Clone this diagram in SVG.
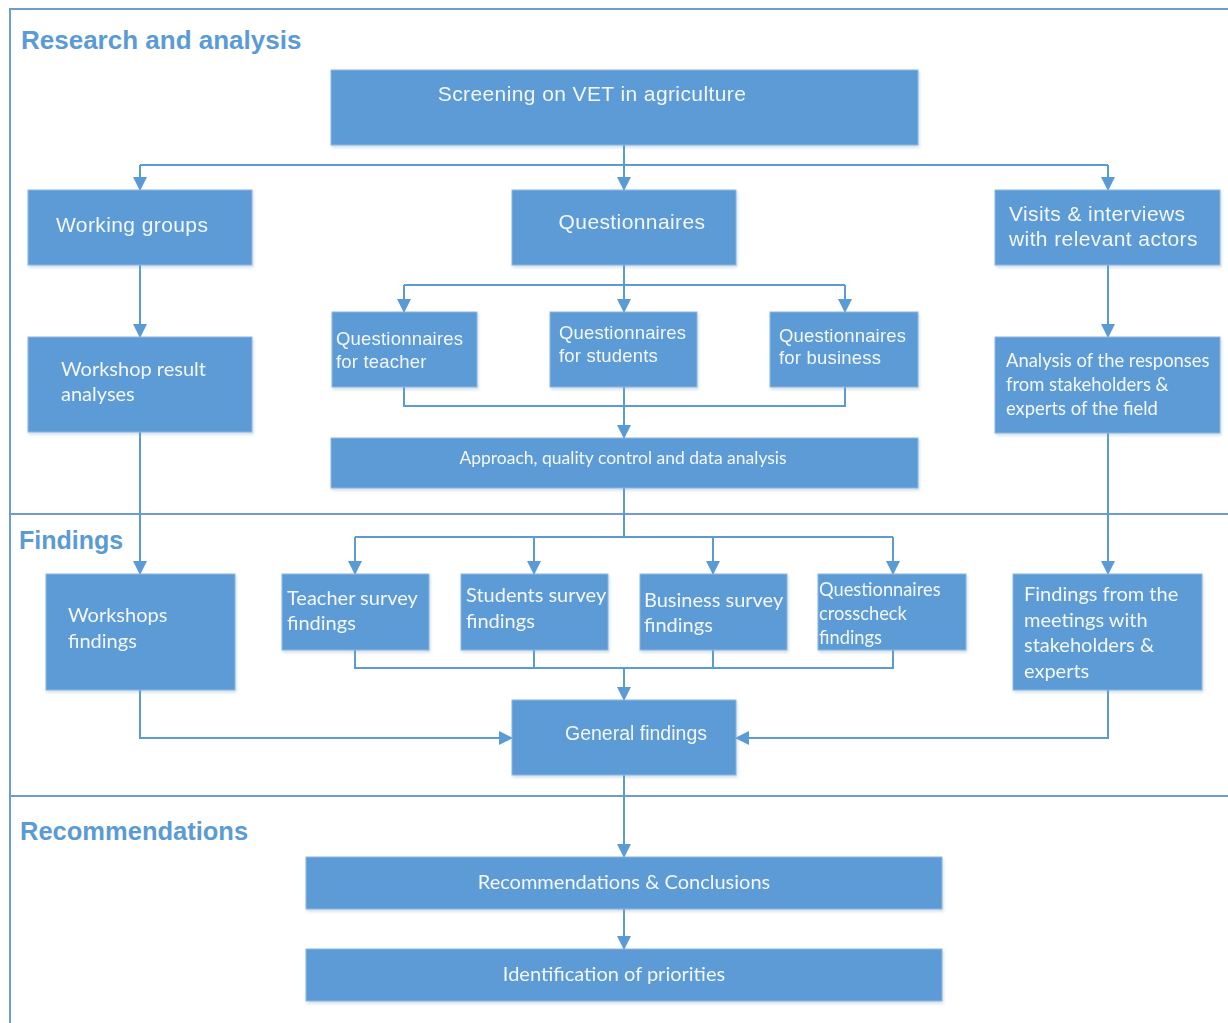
<svg xmlns="http://www.w3.org/2000/svg" width="1228" height="1023" viewBox="0 0 1228 1023">
<defs>
<style>
.box{fill:#5B9BD5;stroke:#8DB8E2;stroke-width:1}
.t{fill:#F4F8FC;font-family:"Liberation Sans",Arial,sans-serif}
.big{font-size:21px;letter-spacing:0.4px}
.mid{font-size:18.5px;letter-spacing:0.2px}
.c{fill:#F4F8FC;font-family:Lato,"Open Sans",sans-serif}
.c20{font-size:20px}
.h{fill:#5B9BD5;font-weight:bold;font-family:"Liberation Sans",Arial,sans-serif}
.frame{fill:none;stroke:#6C9CD0;stroke-width:2}
.ln{fill:none;stroke:#5B9BD5;stroke-width:2}
.ar{fill:none;stroke:#5B9BD5;stroke-width:2;marker-end:url(#ah)}
</style>
<marker id="ah" markerUnits="userSpaceOnUse" markerWidth="14" markerHeight="14" viewBox="0 0 14 14" refX="13" refY="7" orient="auto">
<path d="M0,0 L14,7 L0,14 Z" fill="#5B9BD5"/>
</marker>
<filter id="sh" x="-5%" y="-5%" width="110%" height="115%">
<feDropShadow dx="1" dy="2" stdDeviation="1.5" flood-color="#7A9CC0" flood-opacity="0.35"/>
</filter>
</defs>
<rect width="1228" height="1023" fill="#FFFFFF"/>
<g id="frame">
<path class="frame" d="M10,1023 L10,9 L1228,9"/>
<line class="frame" x1="10" y1="514" x2="1228" y2="514"/>
<line class="frame" x1="10" y1="796" x2="1228" y2="796"/>
<text class="h" x="21" y="49" font-size="26">Research and analysis</text>
<text class="h" x="19" y="549" font-size="25">Findings</text>
<text class="h" x="20" y="840" font-size="25.5">Recommendations</text>
</g>
<g id="connectors">
<line class="ln" x1="624" y1="145" x2="624" y2="165"/>
<line class="ln" x1="140" y1="165" x2="1108" y2="165"/>
<line class="ar" x1="140" y1="165" x2="140" y2="190"/>
<line class="ar" x1="624" y1="165" x2="624" y2="190"/>
<line class="ar" x1="1108" y1="165" x2="1108" y2="190"/>
<line class="ln" x1="624" y1="265" x2="624" y2="285"/>
<line class="ln" x1="404" y1="285" x2="845" y2="285"/>
<line class="ar" x1="404" y1="285" x2="404" y2="312"/>
<line class="ar" x1="624" y1="285" x2="624" y2="312"/>
<line class="ar" x1="845" y1="285" x2="845" y2="312"/>
<path class="ln" d="M404,387 L404,406 L845,406 L845,387"/>
<line class="ar" x1="624" y1="387" x2="624" y2="438"/>
<line class="ar" x1="140" y1="265" x2="140" y2="337"/>
<line class="ar" x1="1108" y1="265" x2="1108" y2="337"/>
<line class="ar" x1="140" y1="432" x2="140" y2="574"/>
<line class="ar" x1="1108" y1="433" x2="1108" y2="574"/>
<line class="ln" x1="624" y1="488" x2="624" y2="537"/>
<line class="ln" x1="355" y1="537" x2="893" y2="537"/>
<line class="ar" x1="355" y1="537" x2="355" y2="574"/>
<line class="ar" x1="534" y1="537" x2="534" y2="574"/>
<line class="ar" x1="713" y1="537" x2="713" y2="574"/>
<line class="ar" x1="893" y1="537" x2="893" y2="574"/>
<path class="ln" d="M355,650 L355,668 L893,668 L893,650"/>
<line class="ln" x1="534" y1="650" x2="534" y2="668"/>
<line class="ln" x1="713" y1="650" x2="713" y2="668"/>
<line class="ar" x1="624" y1="668" x2="624" y2="700"/>
<path class="ar" d="M140,690 L140,738 L512,738"/>
<path class="ar" d="M1108,690 L1108,738 L736,738"/>
<line class="ar" x1="624" y1="775" x2="624" y2="857"/>
<line class="ar" x1="624" y1="909" x2="624" y2="949"/>
</g>
<g id="screening" filter="url(#sh)"><rect class="box" x="331" y="70" width="587" height="75"/><text class="t big" x="592" y="101" text-anchor="middle">Screening on VET in agriculture</text></g>
<g id="working-groups" filter="url(#sh)"><rect class="box" x="28" y="190" width="224" height="75"/><text class="t big" x="56" y="232">Working groups</text></g>
<g id="questionnaires" filter="url(#sh)"><rect class="box" x="512" y="190" width="224" height="75"/><text class="t big" x="632" y="229" text-anchor="middle">Questionnaires</text></g>
<g id="visits" filter="url(#sh)"><rect class="box" x="995" y="190" width="225" height="75"/><text class="t big" x="1009" y="221">Visits &amp; interviews</text><text class="t big" x="1009" y="246">with relevant actors</text></g>
<g id="q-teacher" filter="url(#sh)"><rect class="box" x="332" y="312" width="145" height="75"/><text class="t mid" x="336" y="345">Questionnaires</text><text class="t mid" x="336" y="368">for teacher</text></g>
<g id="q-students" filter="url(#sh)"><rect class="box" x="550" y="312" width="147" height="75"/><text class="t mid" x="559" y="339">Questionnaires</text><text class="t mid" x="559" y="362">for students</text></g>
<g id="q-business" filter="url(#sh)"><rect class="box" x="770" y="312" width="148" height="75"/><text class="t mid" x="779" y="342">Questionnaires</text><text class="t mid" x="779" y="364">for business</text></g>
<g id="approach" filter="url(#sh)"><rect class="box" x="331" y="438" width="587" height="50"/><text class="c" x="623" y="464" text-anchor="middle" font-size="17.5">Approach, quality control and data analysis</text></g>
<g id="workshop-result" filter="url(#sh)"><rect class="box" x="28" y="337" width="224" height="95"/><text class="c c20" x="61" y="376">Workshop result</text><text class="c c20" x="61" y="401">analyses</text></g>
<g id="analysis" filter="url(#sh)"><rect class="box" x="995" y="337" width="225" height="96"/><text class="c" x="1006" y="367" font-size="18.4">Analysis of the responses</text><text class="c" x="1006" y="391" font-size="18.4">from stakeholders &amp;</text><text class="c" x="1006" y="415" font-size="18.4">experts of the field</text></g>
<g id="workshops-findings" filter="url(#sh)"><rect class="box" x="46" y="574" width="189" height="116"/><text class="c c20" x="68" y="622">Workshops</text><text class="c c20" x="68" y="648">findings</text></g>
<g id="teacher-findings" filter="url(#sh)"><rect class="box" x="282" y="574" width="147" height="76"/><text class="c c20" x="287" y="605">Teacher survey</text><text class="c c20" x="287" y="630">findings</text></g>
<g id="students-findings" filter="url(#sh)"><rect class="box" x="461" y="574" width="147" height="76"/><text class="c c20" x="466" y="602">Students survey</text><text class="c c20" x="466" y="628">findings</text></g>
<g id="business-findings" filter="url(#sh)"><rect class="box" x="640" y="574" width="147" height="76"/><text class="c c20" x="644" y="607">Business survey</text><text class="c c20" x="644" y="632">findings</text></g>
<g id="crosscheck-findings" filter="url(#sh)"><rect class="box" x="818" y="574" width="148" height="76"/><text class="c" x="819" y="596" font-size="18.3">Questionnaires</text><text class="c" x="819" y="620" font-size="18.3">crosscheck</text><text class="c" x="819" y="644" font-size="18.3">findings</text></g>
<g id="meetings-findings" filter="url(#sh)"><rect class="box" x="1013" y="574" width="189" height="116"/><text class="c c20" x="1024" y="601">Findings from the</text><text class="c c20" x="1024" y="627">meetings with</text><text class="c c20" x="1024" y="652">stakeholders &amp;</text><text class="c c20" x="1024" y="678">experts</text></g>
<g id="general-findings" filter="url(#sh)"><rect class="box" x="512" y="700" width="224" height="75"/><text class="t" x="636" y="740" text-anchor="middle" font-size="19.5">General findings</text></g>
<g id="recommendations" filter="url(#sh)"><rect class="box" x="306" y="857" width="636" height="52"/><text class="c c20" x="624" y="889" text-anchor="middle">Recommendations &amp; Conclusions</text></g>
<g id="priorities" filter="url(#sh)"><rect class="box" x="306" y="949" width="636" height="52"/><text class="c c20" x="614" y="981" text-anchor="middle">Identification of priorities</text></g>
</svg>
